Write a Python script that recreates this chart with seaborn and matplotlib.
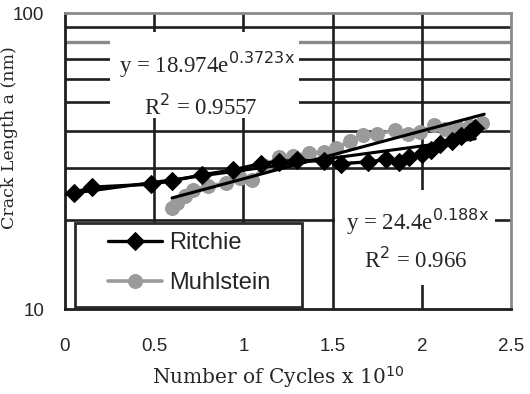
import numpy as np
import pandas as pd
import matplotlib
matplotlib.use("Agg")
import matplotlib.pyplot as plt
import seaborn as sns
from matplotlib.ticker import FixedLocator, NullFormatter, FixedFormatter
from matplotlib.patches import Rectangle

# Ritchie crack-length measurements
ritchie_cycles = [0.05, 0.15, 0.48, 0.60, 0.77, 0.94, 1.10, 1.20, 1.30, 1.45, 1.55,
                  1.70, 1.80, 1.87, 1.93, 2.00, 2.05, 2.10, 2.17, 2.22, 2.27, 2.30]
ritchie_length = [24.7, 25.8, 26.4, 27.1, 28.4, 29.5, 31.0, 31.5, 31.8, 31.6, 31.0,
                  31.4, 32.0, 31.5, 32.5, 33.5, 34.5, 36.0, 37.0, 38.5, 39.5, 41.0]

# Muhlstein crack-length measurements
muhl_cycles = [0.60, 0.63, 0.67, 0.72, 0.80, 0.90, 0.98, 1.05, 1.12, 1.20, 1.28, 1.37,
               1.45, 1.52, 1.60, 1.67, 1.75, 1.85, 1.92, 1.99, 2.07, 2.13, 2.20, 2.27, 2.34]
muhl_length = [21.9, 22.8, 24.0, 25.2, 26.0, 26.6, 27.7, 27.3, 30.5, 32.6, 33.0, 33.6,
               34.0, 35.0, 37.0, 38.7, 39.0, 40.2, 39.0, 39.6, 41.8, 40.5, 41.2, 41.5, 42.4]

# Exponential trend-line fits: y = a * exp(b * x), with R^2
muhl_fit = (18.974, 0.3723, 0.9557)
ritchie_fit = (24.4, 0.188, 0.966)

x_ticks = [0, 0.5, 1, 1.5, 2, 2.5]
x_tick_labels = ["0", "0.5", "1", "1.5", "2", "2.5"]
y_ticks = [10, 100]
y_tick_labels = ["10", "100"]

sns.set_style("white")
plt.rcParams["font.family"] = ["Liberation Sans", "DejaVu Sans"]

fig = plt.figure(figsize=(5.30, 3.94), dpi=100)
ax = fig.add_axes([0.1226, 0.2157, 0.8415, 0.7513])

ax.set_yscale("log")
ax.set_xlim(0, 2.5)
ax.set_ylim(10, 100)

# Grid lines
grid_color = "#1e1e1e"
for level in [20, 30, 40, 50, 60, 70, 80, 90]:
    ax.axhline(level, color="#8a8a8a" if level == 80 else grid_color,
               lw=2.4 if level == 80 else 1.9, zorder=0.5)
for xv in [0.5, 1.0, 1.5, 2.0]:
    ax.axvline(xv, color=grid_color, lw=1.9, zorder=0.5)

df_r = pd.DataFrame({"cycles": ritchie_cycles, "length": ritchie_length})
df_m = pd.DataFrame({"cycles": muhl_cycles, "length": muhl_length})

sns.lineplot(data=df_m, x="cycles", y="length", ax=ax, color="#9a9a9a",
             marker="o", markersize=10, markeredgecolor="#9a9a9a", lw=2.6,
             label="Muhlstein", zorder=3, sort=False)
sns.lineplot(data=df_r, x="cycles", y="length", ax=ax, color="black",
             marker="D", markersize=9, markeredgecolor="black", lw=2.4,
             label="Ritchie", zorder=4, sort=False)

# Trend lines drawn from the fitted equations
xm = np.linspace(min(muhl_cycles), max(muhl_cycles) + 0.01, 50)
ax.plot(xm, muhl_fit[0] * np.exp(muhl_fit[1] * xm), color="black", lw=2.2, zorder=5)
xr = np.linspace(0.0, max(ritchie_cycles), 50)
ax.plot(xr, ritchie_fit[0] * np.exp(ritchie_fit[1] * xr), color="black", lw=2.2, zorder=5)

# Equation labels on white boxes
serif = ["Liberation Serif", "DejaVu Serif"]
ax.add_patch(Rectangle((0.10, 0.645), 0.425, 0.29, transform=ax.transAxes,
                       facecolor="white", edgecolor="none", zorder=1))
ax.add_patch(Rectangle((0.605, 0.081), 0.36, 0.321, transform=ax.transAxes,
                       facecolor="white", edgecolor="none", zorder=1))
eq_size = 16.5
ax.text(0.318, 0.824, r"y = %.3fe$^{%.4f\mathrm{x}}$" % (muhl_fit[0], muhl_fit[1]),
        transform=ax.transAxes, ha="center", va="center", fontsize=eq_size,
        family=serif, zorder=6)
ax.text(0.305, 0.682, r"R$^2$ = %.4f" % muhl_fit[2], transform=ax.transAxes,
        ha="center", va="center", fontsize=eq_size, family=serif, zorder=6)
ax.text(0.79, 0.294, r"y = %.1fe$^{%.3f\mathrm{x}}$" % (ritchie_fit[0], ritchie_fit[1]),
        transform=ax.transAxes, ha="center", va="center", fontsize=eq_size,
        family=serif, zorder=6)
ax.text(0.787, 0.166, r"R$^2$ = %.3f" % ritchie_fit[2], transform=ax.transAxes,
        ha="center", va="center", fontsize=eq_size, family=serif, zorder=6)

# Legend: frame drawn as a box, entries placed inside it
ax.add_patch(Rectangle((0.022, 0.007), 0.51, 0.284, transform=ax.transAxes,
                       facecolor="white", edgecolor="#2a2a2a", lw=2.0, zorder=7))
handles, labels = ax.get_legend_handles_labels()
order = [labels.index("Ritchie"), labels.index("Muhlstein")]
leg = ax.legend([handles[i] for i in order], [labels[i] for i in order],
                loc="center left", bbox_to_anchor=(0.096, 0.155),
                fontsize=17, frameon=False,
                handlelength=2.3, handletextpad=0.3, labelspacing=0.75,
                borderpad=0, borderaxespad=0)
leg.set_zorder(8)

# Axes, ticks and labels
ax.yaxis.set_major_locator(FixedLocator(y_ticks))
ax.yaxis.set_major_formatter(FixedFormatter(y_tick_labels))
ax.yaxis.set_minor_locator(FixedLocator([]))
ax.yaxis.set_minor_formatter(NullFormatter())
ax.set_xticks(x_ticks)
ax.set_xticklabels(x_tick_labels)
ax.tick_params(axis="both", which="major", direction="out", length=6, width=1.5,
               color="#1e1e1e", labelsize=13.5)
ax.tick_params(axis="y", pad=9)
ax.tick_params(axis="x", pad=15)
for side in ["left", "bottom"]:
    ax.spines[side].set_color("#1e1e1e")
    ax.spines[side].set_linewidth(2.0)
for side in ["top", "right"]:
    ax.spines[side].set_visible(True)
    ax.spines[side].set_color("#8a8a8a")
    ax.spines[side].set_linewidth(2.0)

label_serif = ["DejaVu Serif", "Liberation Serif"]
ax.set_xlabel(r"Number of Cycles x 10$^{10}$", family=label_serif, fontsize=14.5)
ax.xaxis.set_label_coords(0.477, -0.185)
ax.set_ylabel("Crack Length a (nm)", family=label_serif, fontsize=12.5)
ax.yaxis.set_label_coords(-0.105, 0.578)

fig.savefig("out.png", dpi=100)
